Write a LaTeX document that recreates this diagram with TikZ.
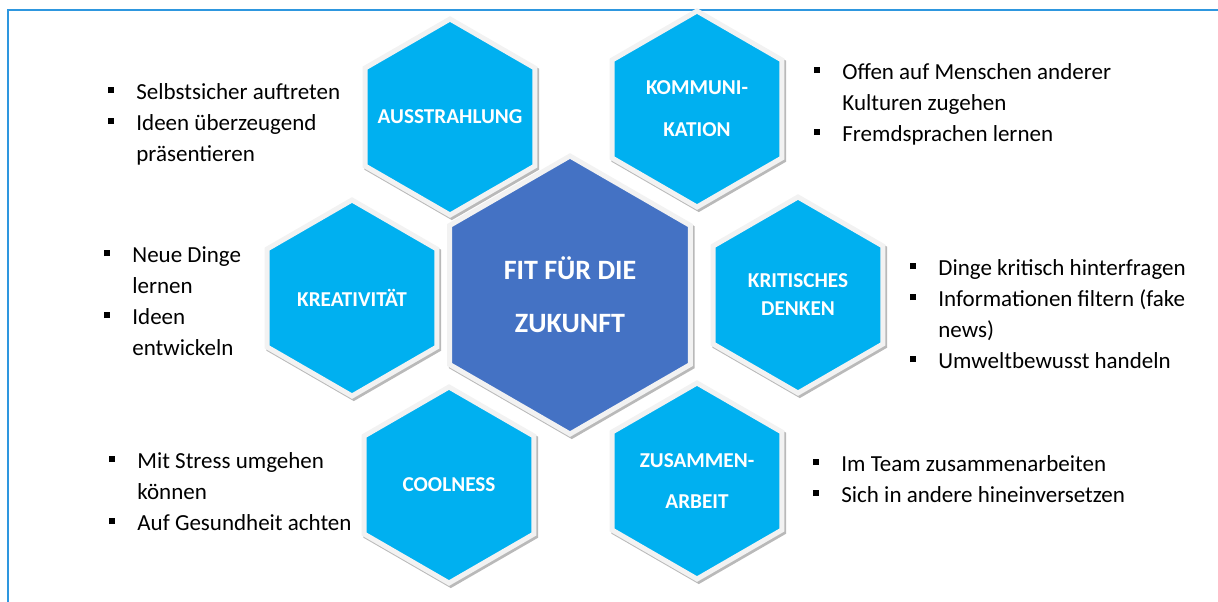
\documentclass[tikz,border=0pt]{standalone}
\usepackage{fontspec}
\setmainfont{Carlito}
\usetikzlibrary{shapes.geometric, shadows}

\definecolor{skyblue}{HTML}{00B0F0}
\definecolor{coreblue}{HTML}{4472C4}
\definecolor{frameblue}{HTML}{2E97DF}

% bullet and hanging indent for the lists
\newcommand{\bul}{\makebox[14pt][l]{\rule[3pt]{3pt}{3pt}}}
\newcommand{\cont}{\hspace*{14pt}}
\newcommand{\itemlist}[1]{\begin{tabular}[t]{@{}l@{}}#1\end{tabular}}

\tikzset{
  hexbox/.style={regular polygon, regular polygon sides=6, regular polygon rotate=30,
    minimum size=98pt, inner sep=-8pt, fill=skyblue, draw=gray!10, line width=2.5pt,
    text=white, align=center, font=\fontsize{10.6}{14}\bfseries\selectfont,
    drop shadow={shadow xshift=0.9pt, shadow yshift=-1.1pt, opacity=1, fill=none,
      draw=gray!55, line width=2.5pt}},
  corehex/.style={hexbox, fill=coreblue, minimum size=139pt,
    font=\fontsize{14}{26.5}\bfseries\selectfont},
  listtext/.style={anchor=base west, inner sep=0pt, font=\fontsize{11.5}{15.5}\selectfont}
}

\begin{document}
\begin{tikzpicture}[x=0.5pt, y=-0.5pt]
    \useasboundingbox (0,0) rectangle (1218,601);
    \clip (0,0) rectangle (1218,601);

    % Frame
    \draw[frameblue, line width=1pt] (8,620) -- (8,10) -- (1240,10);

    % Hexagons
    \node[corehex] (fit) at (570,295) {FIT FÜR DIE\\ZUKUNFT};
    \node[hexbox] (ausstr) at (450,117) {AUSSTRAHLUNG};
    \node[hexbox] (kommu) at (697,109) {KOMMUNI-\\[7pt]KATION};
    \node[hexbox] (kreat) at (352,298) {KREATIVITÄT};
    \node[hexbox] (kritik) at (798,295) {KRITISCHES\\DENKEN};
    \node[hexbox] (cool) at (449,485) {COOLNESS};
    \node[hexbox] (team) at (697,481) {ZUSAMMEN-\\[6.5pt]ARBEIT};

    % Lists
    \node[listtext] (l-ausstr) at (108,99) {\itemlist{\bul Selbstsicher auftreten\\
        \bul Ideen überzeugend\\ \cont präsentieren}};
    \node[listtext] (l-kommu) at (814,79) {\itemlist{\bul Offen auf Menschen anderer\\
        \cont Kulturen zugehen\\ \bul Fremdsprachen lernen}};
    \node[listtext] (l-kreat) at (104,262) {\itemlist{\bul Neue Dinge\\ \cont lernen\\
        \bul Ideen\\ \cont entwickeln}};
    \node[listtext] (l-kritik) at (910,275) {\itemlist{\bul Dinge kritisch hinterfragen\\
        \bul Informationen filtern (fake\\ \cont news)\\ \bul Umweltbewusst handeln}};
    \node[listtext] (l-cool) at (109,468) {\itemlist{\bul Mit Stress umgehen\\
        \cont können\\ \bul Auf Gesundheit achten}};
    \node[listtext] (l-team) at (813,471) {\itemlist{\bul Im Team zusammenarbeiten\\
        \bul Sich in andere hineinversetzen}};
\end{tikzpicture}
\end{document}
